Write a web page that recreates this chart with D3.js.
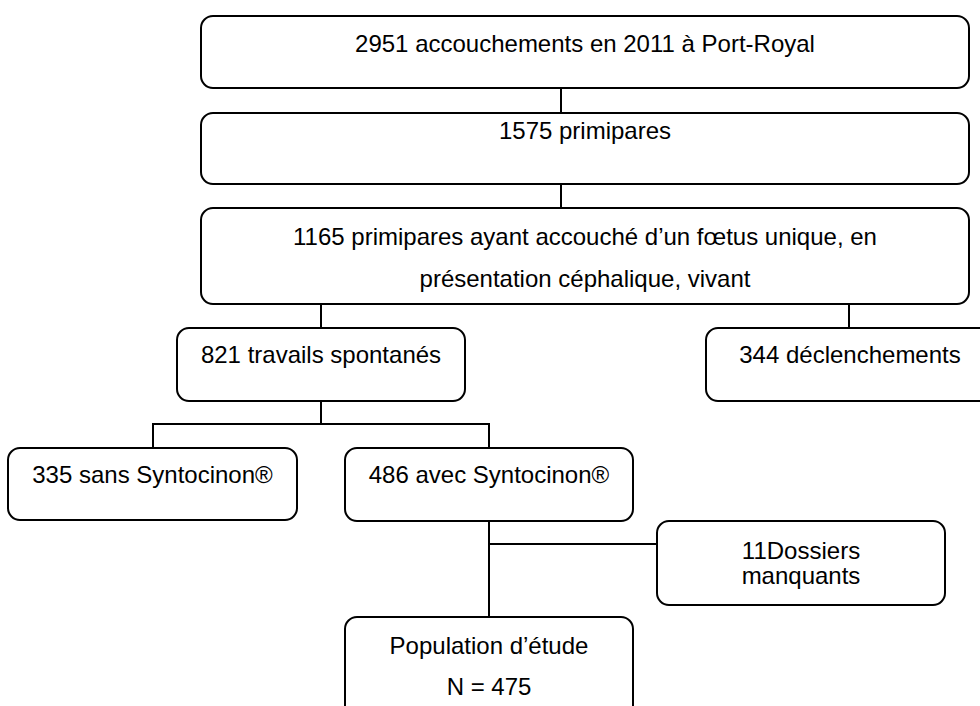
<!DOCTYPE html>
<html>
<head>
<meta charset="utf-8">
<script src="https://cdn.jsdelivr.net/npm/d3@7"></script>
<style>
  html, body { margin: 0; padding: 0; background: #fff; }
  svg { display: block; }
  text { font-family: "Liberation Sans", Arial, sans-serif; font-size: 24px; fill: #000; }
</style>
</head>
<body>
<svg id="flow" width="980" height="706"></svg>
<script>
// Flow chart content: counts and the text that goes with them
const counts = [2951, 1575, 1165, 821, 344, 335, 486, 11, 475];
const labels = [
    ["2951 accouchements en 2011 à Port-Royal"],
    ["1575 primipares"],
    ["1165 primipares ayant accouché d’un fœtus unique, en", "présentation céphalique, vivant"],
    ["821 travails spontanés"],
    ["344 déclenchements"],
    ["335 sans Syntocinon®"],
    ["486 avec Syntocinon®"],
    ["11Dossiers", "manquants"],
    ["Population d’étude", "N = 475"]
];
// parent -> child links (index into the arrays above)
const links = [[0, 1], [1, 2], [2, 3], [2, 4], [3, 5], [3, 6], [6, 7], [6, 8]];

// Layout of the boxes (x0, x1, y0, y1, first baseline, line gap)
const layout = [
    { x0: 201, x1: 969, y0: 16, y1: 88, base: 52, gap: 0 },
    { x0: 201, x1: 969, y0: 113, y1: 184, base: 139, gap: 0 },
    { x0: 201, x1: 969, y0: 208, y1: 304, base: 245, gap: 42 },
    { x0: 177, x1: 465, y0: 328, y1: 401, base: 363, gap: 0 },
    { x0: 706, x1: 994, y0: 328, y1: 401, base: 363, gap: 0 },
    { x0: 8, x1: 297, y0: 448, y1: 520, base: 483, gap: 0 },
    { x0: 345, x1: 633, y0: 448, y1: 521, base: 483, gap: 0 },
    { x0: 657, x1: 945, y0: 521, y1: 605, base: 559, gap: 25 },
    { x0: 345, x1: 633, y0: 617, y1: 730, base: 654, gap: 41 }
];
// connector anchor x on the parent / elbow y for each link
const connectors = [
    { px: 561, cx: 561, ey: null },
    { px: 561, cx: 561, ey: null },
    { px: 321, cx: 321, ey: null },
    { px: 849, cx: 849, ey: null },
    { px: 321, cx: 153, ey: 424 },
    { px: 321, cx: 489, ey: 424 },
    { px: 489, cx: 657, ey: 544, side: true },
    { px: 489, cx: 489, ey: null }
];

const svg = d3.select("#flow");
const nodes = counts.map((c, i) => Object.assign({ count: c, lines: labels[i] }, layout[i]));

// Connectors first so the boxes sit on top
const line = d3.line();
svg.append("g")
    .selectAll("path")
    .data(links)
    .enter()
    .append("path")
    .attr("fill", "none")
    .attr("stroke", "#000")
    .attr("stroke-width", 2)
    .attr("d", (l, i) => {
        const p = nodes[l[0]], c = nodes[l[1]], k = connectors[i];
        if (k.side) return line([[k.px, k.ey], [c.x0, k.ey]]);
        if (k.ey === null) return line([[k.px, p.y1], [k.cx, c.y0]]);
        return line([[k.px, p.y1], [k.px, k.ey], [k.cx, k.ey], [k.cx, c.y0]]);
    });

const box = svg.append("g")
    .selectAll("g")
    .data(nodes)
    .enter()
    .append("g");

box.append("rect")
    .attr("x", d => d.x0)
    .attr("y", d => d.y0)
    .attr("width", d => d.x1 - d.x0)
    .attr("height", d => d.y1 - d.y0)
    .attr("rx", 12)
    .attr("fill", "#fff")
    .attr("stroke", "#000")
    .attr("stroke-width", 2);

box.append("text")
    .attr("text-anchor", "middle")
    .selectAll("tspan")
    .data(d => d.lines.map((t, i) => ({ t, x: (d.x0 + d.x1) / 2, y: d.base + i * d.gap })))
    .enter()
    .append("tspan")
    .attr("x", d => d.x)
    .attr("y", d => d.y)
    .text(d => d.t);
</script>
</body>
</html>
